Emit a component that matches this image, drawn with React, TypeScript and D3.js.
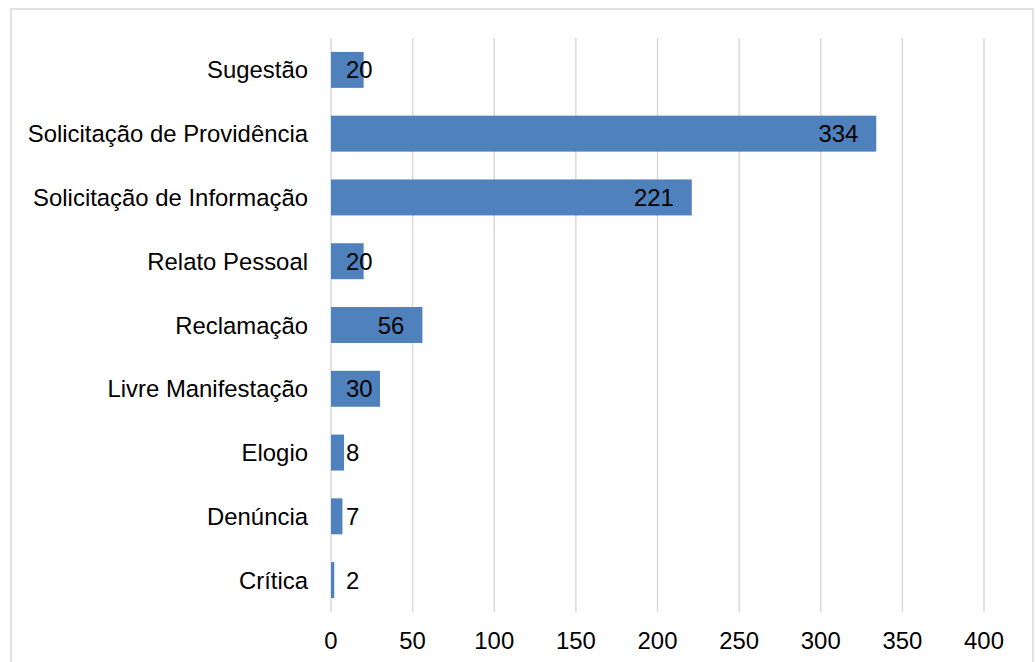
import { useEffect, useRef } from "react";
import * as d3 from "d3";

const categories = [
  "Sugestão",
  "Solicitação de Providência",
  "Solicitação de Informação",
  "Relato Pessoal",
  "Reclamação",
  "Livre Manifestação",
  "Elogio",
  "Denúncia",
  "Crítica",
];
const values = [20, 334, 221, 20, 56, 30, 8, 7, 2];
const xTicks = [0, 50, 100, 150, 200, 250, 300, 350, 400];

const App = () => {
  const svgRef = useRef<SVGSVGElement>(null);

  useEffect(() => {
    if (!svgRef.current) return;
    d3.select(svgRef.current).selectAll("*").remove();

    const width = 1035;
    const height = 662;
    const margin = { top: 38, right: 51, bottom: 50, left: 331 };
    const font = "'Liberation Sans', Arial, sans-serif";
    const fontSize = 23.9;
    const grid = "#d9d9d9";

    const svg = d3.select(svgRef.current)
      .attr("width", width)
      .attr("height", height)
      .style("font-family", font);

    svg.append("rect")
      .attr("width", width)
      .attr("height", height)
      .attr("fill", "#fff");

    // chart border (bottom edge runs off the picture)
    svg.append("rect")
      .attr("x", 11)
      .attr("y", 9)
      .attr("width", 1022)
      .attr("height", 680)
      .attr("fill", "none")
      .attr("stroke", grid)
      .attr("stroke-width", 1.5);

    const x = d3.scaleLinear()
      .domain([0, 400])
      .range([margin.left, width - margin.right]);

    const y = d3.scaleBand<string>()
      .domain(categories)
      .range([margin.top, height - margin.bottom])
      .paddingInner(0.436)
      .paddingOuter(0.218);

    const y0 = margin.top;
    const y1 = height - margin.bottom;

    // gridlines
    svg.append("g")
      .selectAll("line")
      .data(xTicks)
      .join("line")
      .attr("x1", d => x(d))
      .attr("x2", d => x(d))
      .attr("y1", y0)
      .attr("y2", y1)
      .attr("stroke", grid)
      .attr("stroke-width", 1.5);

    // tick labels
    svg.append("g")
      .selectAll("text")
      .data(xTicks)
      .join("text")
      .attr("x", d => x(d))
      .attr("y", 649)
      .attr("text-anchor", "middle")
      .style("font-size", `${fontSize}px`)
      .attr("fill", "#000")
      .text(d => d);

    // bars
    const data = categories.map((c, i) => ({ c, v: values[i] }));
    svg.append("g")
      .selectAll("rect")
      .data(data)
      .join("rect")
      .attr("x", x(0))
      .attr("y", d => y(d.c)!)
      .attr("width", d => x(d.v) - x(0))
      .attr("height", y.bandwidth())
      .attr("fill", "#4f81bd");

    // category labels
    svg.append("g")
      .selectAll("text")
      .data(categories)
      .join("text")
      .attr("x", x(0) - 23)
      .attr("y", d => y(d)! + y.bandwidth() / 2)
      .attr("dy", "0.36em")
      .attr("text-anchor", "end")
      .style("font-size", `${fontSize}px`)
      .attr("fill", "#000")
      .text(d => d);

    // value labels: inside end, but never closer than 15px to the axis
    const labels = svg.append("g")
      .selectAll("text")
      .data(data)
      .join("text")
      .attr("y", d => y(d.c)! + y.bandwidth() / 2)
      .attr("dy", "0.36em")
      .style("font-size", `${fontSize}px`)
      .attr("fill", "#000")
      .text(d => d.v);

    labels.each(function (d) {
      const el = this as SVGTextElement;
      const w = el.getComputedTextLength();
      const left = Math.max(x(0) + 15, x(d.v) - 18 - w);
      d3.select(el).attr("x", left);
    });
  }, []);

  return (
    <div style={{ position: "absolute", left: 0, top: 0 }}>
      <svg ref={svgRef} style={{ display: "block" }}></svg>
    </div>
  );
};

export default App;
